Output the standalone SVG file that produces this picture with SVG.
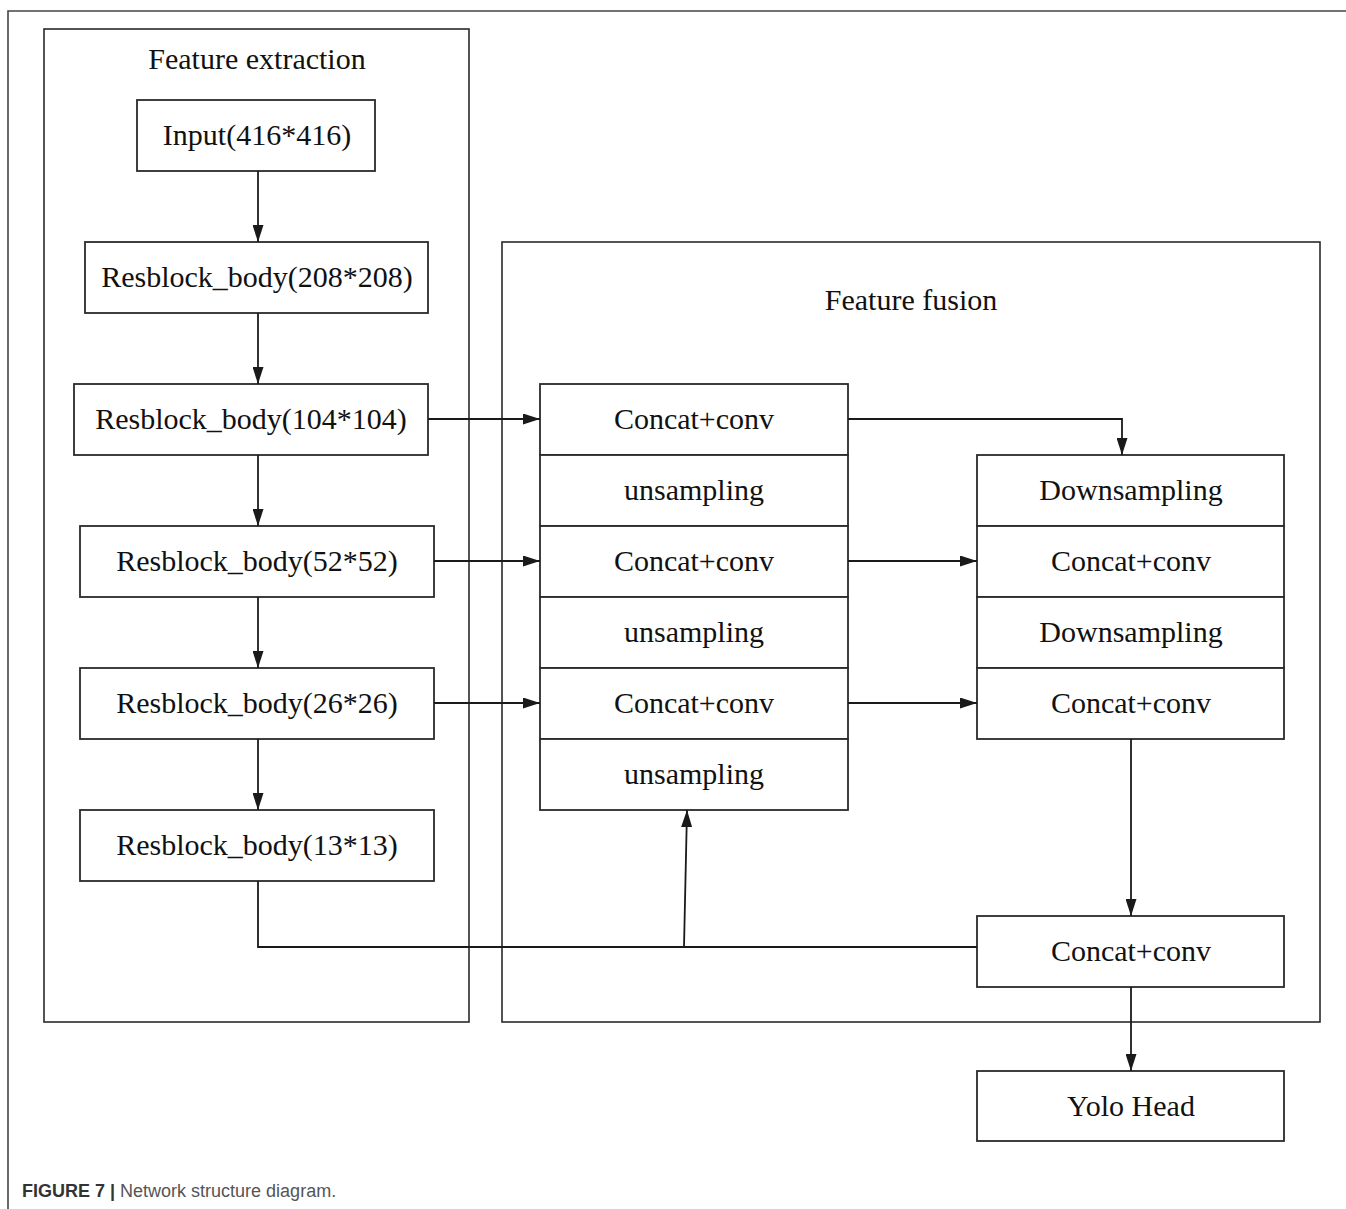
<svg xmlns="http://www.w3.org/2000/svg" width="1346" height="1209" viewBox="0 0 1346 1209">
  <defs>
    <marker id="arrow" markerWidth="17" markerHeight="11" refX="17" refY="5.5" orient="auto" markerUnits="userSpaceOnUse">
      <path d="M0,0 L17,5.5 L0,11 Z" fill="#1a1a1a"/>
    </marker>
    <style>
      .panel { fill: none; stroke: #2a2a2a; stroke-width: 1.6; }
      .box { fill: #ffffff; stroke: #2a2a2a; stroke-width: 1.8; }
      .lbl { font-family: "Liberation Serif", "Times New Roman", serif; font-size: 30px; fill: #111; text-anchor: middle; }
      .title { font-family: "Liberation Serif", "Times New Roman", serif; font-size: 30px; fill: #111; text-anchor: middle; }
      .edge { fill: none; stroke: #1a1a1a; stroke-width: 1.8; }
      .cap { font-family: "Liberation Sans", Arial, sans-serif; font-size: 18px; }
    </style>
  </defs>

  <rect width="1346" height="1209" fill="#ffffff"/>

  <!-- page frame -->
  <path d="M8,1209 L8,11 L1346,11" fill="none" stroke="#444" stroke-width="1.6"/>

  <!-- panels -->
  <g id="panel-extraction">
    <rect class="panel" x="44" y="29" width="425" height="993"/>
    <text class="title" x="257" y="69">Feature extraction</text>
  </g>
  <g id="panel-fusion">
    <rect class="panel" x="502" y="242" width="818" height="780"/>
    <text class="title" x="911" y="310">Feature fusion</text>
  </g>

  <!-- backbone -->
  <g id="input"><rect class="box" x="137" y="100" width="238" height="71"/><text class="lbl" x="257" y="145">Input(416*416)</text></g>
  <g id="res208"><rect class="box" x="85" y="242" width="343" height="71"/><text class="lbl" x="257" y="287">Resblock_body(208*208)</text></g>
  <g id="res104"><rect class="box" x="74" y="384" width="354" height="71"/><text class="lbl" x="251" y="429">Resblock_body(104*104)</text></g>
  <g id="res52"><rect class="box" x="80" y="526" width="354" height="71"/><text class="lbl" x="257" y="571">Resblock_body(52*52)</text></g>
  <g id="res26"><rect class="box" x="80" y="668" width="354" height="71"/><text class="lbl" x="257" y="713">Resblock_body(26*26)</text></g>
  <g id="res13"><rect class="box" x="80" y="810" width="354" height="71"/><text class="lbl" x="257" y="855">Resblock_body(13*13)</text></g>

  <!-- upsampling path -->
  <g id="up-concat1"><rect class="box" x="540" y="384" width="308" height="71"/><text class="lbl" x="694" y="429">Concat+conv</text></g>
  <g id="up-sample1"><rect class="box" x="540" y="455" width="308" height="71"/><text class="lbl" x="694" y="500">unsampling</text></g>
  <g id="up-concat2"><rect class="box" x="540" y="526" width="308" height="71"/><text class="lbl" x="694" y="571">Concat+conv</text></g>
  <g id="up-sample2"><rect class="box" x="540" y="597" width="308" height="71"/><text class="lbl" x="694" y="642">unsampling</text></g>
  <g id="up-concat3"><rect class="box" x="540" y="668" width="308" height="71"/><text class="lbl" x="694" y="713">Concat+conv</text></g>
  <g id="up-sample3"><rect class="box" x="540" y="739" width="308" height="71"/><text class="lbl" x="694" y="784">unsampling</text></g>

  <!-- downsampling path -->
  <g id="down-sample1"><rect class="box" x="977" y="455" width="307" height="71"/><text class="lbl" x="1131" y="500">Downsampling</text></g>
  <g id="down-concat1"><rect class="box" x="977" y="526" width="307" height="71"/><text class="lbl" x="1131" y="571">Concat+conv</text></g>
  <g id="down-sample2"><rect class="box" x="977" y="597" width="307" height="71"/><text class="lbl" x="1131" y="642">Downsampling</text></g>
  <g id="down-concat2"><rect class="box" x="977" y="668" width="307" height="71"/><text class="lbl" x="1131" y="713">Concat+conv</text></g>
  <g id="final-concat"><rect class="box" x="977" y="916" width="307" height="71"/><text class="lbl" x="1131" y="961">Concat+conv</text></g>
  <g id="yolo-head"><rect class="box" x="977" y="1071" width="307" height="70"/><text class="lbl" x="1131" y="1116">Yolo Head</text></g>

  <!-- connectors -->
  <g id="connectors">
    <path class="edge" d="M258,171 L258,242" marker-end="url(#arrow)"/>
    <path class="edge" d="M258,313 L258,384" marker-end="url(#arrow)"/>
    <path class="edge" d="M258,455 L258,526" marker-end="url(#arrow)"/>
    <path class="edge" d="M258,597 L258,668" marker-end="url(#arrow)"/>
    <path class="edge" d="M258,739 L258,810" marker-end="url(#arrow)"/>

    <path class="edge" d="M428,419 L540,419" marker-end="url(#arrow)"/>
    <path class="edge" d="M434,561 L540,561" marker-end="url(#arrow)"/>
    <path class="edge" d="M434,703 L540,703" marker-end="url(#arrow)"/>

    <path class="edge" d="M848,419 L1122,419 L1122,455" marker-end="url(#arrow)"/>
    <path class="edge" d="M848,561 L977,561" marker-end="url(#arrow)"/>
    <path class="edge" d="M848,703 L977,703" marker-end="url(#arrow)"/>

    <path class="edge" d="M1131,739 L1131,916" marker-end="url(#arrow)"/>
    <path class="edge" d="M1131,987 L1131,1071" marker-end="url(#arrow)"/>

    <path class="edge" d="M258,881 L258,947 L977,947"/>
    <path class="edge" d="M684,947 L687,810" marker-end="url(#arrow)"/>
  </g>

  <!-- caption -->
  <text class="cap" x="22" y="1197"><tspan font-weight="bold" fill="#333">FIGURE 7 |</tspan><tspan fill="#555"> Network structure diagram.</tspan></text>
</svg>
